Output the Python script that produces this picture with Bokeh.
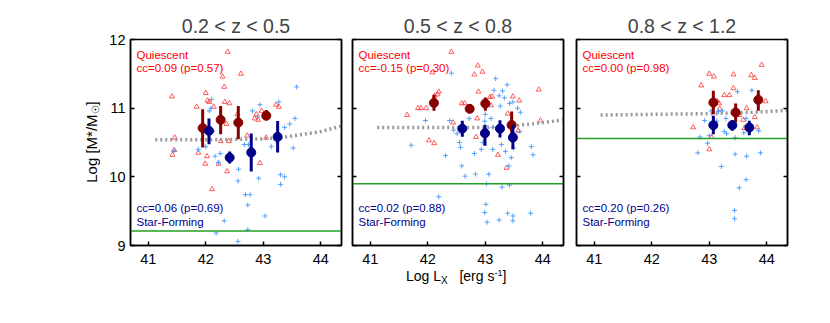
from bokeh.plotting import figure
from bokeh.layouts import row, column
from bokeh.models import FixedTicker, LinearAxis, Label, CustomJSTickFormatter, Range1d, Div
from bokeh.embed import file_html
from bokeh.resources import INLINE

# ---------------- data ----------------
titles = ["0.2 < z < 0.5", "0.5 < z < 0.8", "0.8 < z < 1.2"]
x_ticks = [41, 42, 43, 44]
y_ticks = [9, 10, 11, 12]
q_name = "Quiescent"
sf_name = "Star-Forming"
q_stats = ["cc=0.09 (p=0.57)", "cc=-0.15 (p=0.30)", "cc=0.00 (p=0.98)"]
sf_stats = ["cc=0.06 (p=0.69)", "cc=0.02 (p=0.88)", "cc=0.20 (p=0.26)"]
mass_limit = [9.21, 9.90, 10.56]
x_title_html = ("Log L<sub style='font-size:10px;vertical-align:-3px;line-height:0;'>X</sub>"
                "&nbsp;&nbsp;&nbsp;[erg s<sup style='font-size:9px;vertical-align:5px;line-height:0;'>-1</sup>]")
y_title_html = "Log [M*/M<sub style='font-size:10px;vertical-align:-2px;line-height:0;'>&#9737;</sub>]"

# panel 1 (0.2<z<0.5)
q1_lx = [42.38, 42.29, 42.61, 41.41, 42.32, 42.00, 42.03, 42.06, 42.14, 41.84, 42.33, 42.41,
         41.46, 41.42, 41.45, 41.87, 42.02, 41.99, 42.22, 42.37, 42.11, 42.36, 42.55, 42.88,
         42.91, 42.97, 43.22, 43.27, 43.05, 42.94, 42.72, 42.26, 42.40, 42.85]
q1_m = [11.82, 11.46, 11.50, 11.17, 11.31, 11.22, 11.11, 11.09, 11.02, 11.02, 11.09, 11.07,
        10.57, 10.32, 10.39, 10.35, 10.30, 10.19, 10.19, 10.08, 9.82, 10.77, 10.91, 10.91,
        10.83, 10.96, 11.05, 11.02, 10.57, 10.20, 10.60, 10.52, 10.52, 10.85]
s1_lx = [43.58, 43.27, 42.94, 42.81, 42.90, 42.10, 42.09, 42.06, 43.37, 43.46, 43.52, 43.55,
         43.14, 43.22, 42.74, 42.67, 42.79, 41.87, 41.45, 42.25, 42.16, 42.22, 42.57, 42.56,
         42.69, 42.77, 42.73, 42.92, 43.30, 43.37, 43.30, 43.03, 42.32, 42.18, 42.73, 42.56,
         42.12, 42.00]
s1_m = [11.31, 11.09, 11.05, 10.96, 10.87, 11.13, 11.00, 10.96, 10.72, 10.77, 10.42, 10.85,
        10.44, 10.53, 10.47, 10.47, 10.42, 10.40, 10.38, 10.34, 10.30, 10.21, 10.11, 9.94,
        9.74, 9.74, 9.59, 9.98, 10.03, 10.00, 9.89, 9.43, 9.36, 9.18, 9.23, 9.06,
        10.66, 10.44]
qm1_lx = [41.945, 42.258, 42.565, 43.052]
qm1_m = [10.71, 10.83, 10.79, 10.89]
qm1_hi = [10.985, 11.03, 11.03, 10.975]
qm1_lo = [10.427, 10.62, 10.548, 10.825]
sm1_lx = [42.055, 42.415, 42.79, 43.249]
sm1_m = [10.67, 10.28, 10.354, 10.582]
sm1_hi = [10.849, 10.369, 10.631, 10.814]
sm1_lo = [10.476, 10.194, 10.078, 10.353]
g1_lx = [41.12, 42.0, 42.9, 43.3, 43.7, 44.0, 44.36]
g1_m = [10.54, 10.54, 10.55, 10.57, 10.62, 10.66, 10.74]

# panel 2 (0.5<z<0.8)
q2_lx = [42.41, 42.08, 42.87, 42.81, 42.95, 42.19, 42.17, 42.12, 41.64, 41.83, 41.88, 41.97,
         42.59, 42.64, 42.88, 43.08, 43.12, 43.10, 43.48, 43.59, 43.93, 43.39, 42.86, 42.44,
         42.02, 42.11, 42.84, 43.22, 43.37, 43.57, 43.96]
q2_m = [11.82, 11.52, 11.62, 11.49, 11.53, 11.24, 11.20, 11.18, 10.90, 11.00, 11.00, 11.00,
        11.07, 11.07, 11.24, 11.16, 11.17, 11.04, 11.17, 11.11, 11.27, 10.92, 10.85, 10.79,
        10.53, 10.49, 10.58, 10.32, 10.13, 10.67, 10.82]
s2_lx = [42.41, 43.18, 43.38, 43.15, 43.30, 43.24, 43.33, 43.48, 43.42, 43.26, 43.56, 43.61,
         43.06, 43.00, 42.99, 42.38, 41.96, 42.45, 42.51, 42.72, 43.10, 43.13, 43.60, 41.71,
         42.31, 42.55, 42.57, 42.81, 42.93, 42.96, 43.13, 43.28, 43.35, 43.45, 43.49, 43.80,
         43.83, 42.59, 42.65, 42.83, 43.06, 43.41, 43.42, 43.29, 43.02, 42.19, 43.01, 42.99,
         43.03, 43.24, 43.39, 43.48, 43.48, 43.79]
s2_m = [11.51, 11.43, 11.34, 11.26, 11.25, 11.18, 11.15, 11.09, 11.07, 11.03, 11.00, 10.94,
        11.05, 10.91, 10.81, 10.82, 10.82, 10.68, 10.63, 10.85, 10.85, 10.72, 10.66, 10.46,
        10.31, 10.50, 10.43, 10.34, 10.40, 10.50, 10.40, 10.47, 10.37, 10.28, 10.42, 10.44,
        10.32, 10.16, 10.01, 10.04, 10.04, 10.16, 9.88, 9.85, 9.90, 9.71, 9.60, 9.48,
        9.34, 9.37, 9.47, 9.43, 9.36, 9.47]
qm2_lx = [42.107, 42.728, 43.0, 43.458]
qm2_m = [11.077, 10.99, 11.067, 10.755]
qm2_hi = [11.194, 11.058, 11.155, 10.951]
qm2_lo = [10.961, 10.946, 10.961, 10.563]
sm2_lx = [42.6, 42.994, 43.255, 43.48]
sm2_m = [10.702, 10.635, 10.702, 10.573]
sm2_hi = [10.815, 10.757, 10.825, 10.757]
sm2_lo = [10.582, 10.451, 10.573, 10.403]
g2_lx = [41.12, 42.0, 43.0, 43.5, 44.0, 44.36]
g2_m = [10.72, 10.72, 10.72, 10.74, 10.79, 10.83]

# panel 3 (0.8<z<1.2)
q3_lx = [43.91, 43.00, 43.08, 43.42, 43.73, 43.79, 42.86, 43.42, 43.26, 43.35, 43.14, 43.17,
         43.98, 43.18, 43.65, 43.52, 43.59, 43.79, 43.61, 43.83, 42.72, 43.04, 43.00]
q3_m = [11.63, 11.50, 11.46, 11.49, 11.48, 11.44, 11.33, 11.29, 11.19, 11.19, 11.10, 11.07,
        11.10, 10.99, 11.00, 10.90, 10.83, 10.87, 10.71, 10.72, 10.72, 10.58, 10.40]
s3_lx = [43.49, 43.74, 43.03, 43.23, 43.16, 43.29, 42.92, 43.13, 43.64, 42.84, 43.00, 43.26,
         43.30, 43.45, 43.60, 43.86, 42.97, 42.80, 43.45, 43.65, 43.89, 43.21, 43.64, 43.52,
         43.44, 43.44]
s3_m = [11.24, 11.26, 10.96, 10.96, 10.95, 10.85, 10.82, 10.81, 10.85, 10.58, 10.60, 10.66,
        10.63, 10.57, 10.64, 10.67, 10.49, 10.35, 10.33, 10.30, 10.35, 10.15, 9.96, 9.84,
        9.51, 9.39]
qm3_lx = [43.07, 43.458, 43.852]
qm3_m = [11.082, 10.937, 11.121]
qm3_hi = [11.252, 11.067, 11.262]
qm3_lo = [10.912, 10.791, 10.961]
sm3_lx = [43.07, 43.40, 43.696]
sm3_m = [10.752, 10.752, 10.718]
sm3_hi = [10.888, 10.825, 10.815]
sm3_lo = [10.621, 10.67, 10.606]
g3_lx = [41.11, 42.0, 43.0, 43.5, 44.0, 44.36]
g3_m = [10.90, 10.91, 10.92, 10.93, 10.95, 10.97]

panels = [
    (q1_lx, q1_m, s1_lx, s1_m, qm1_lx, qm1_m, qm1_lo, qm1_hi, sm1_lx, sm1_m, sm1_lo, sm1_hi, g1_lx, g1_m),
    (q2_lx, q2_m, s2_lx, s2_m, qm2_lx, qm2_m, qm2_lo, qm2_hi, sm2_lx, sm2_m, sm2_lo, sm2_hi, g2_lx, g2_m),
    (q3_lx, q3_m, s3_lx, s3_m, qm3_lx, qm3_m, qm3_lo, qm3_hi, sm3_lx, sm3_m, sm3_lo, sm3_hi, g3_lx, g3_m),
]

# ---------------- styles / geometry ----------------
X0, X1 = 40.69, 44.36
Y0, Y1 = 9.0, 12.0
FW, FH = 211, 206
PXX = FW / (X1 - X0)
PXY = FH / (Y1 - Y0)
FONT = "Liberation Sans"
Q_TXT = "#ff0000"
SF_TXT = "#00008b"
Q_PT = "#ff3333"
SF_PT = "#4499ff"
Q_MEAN = "#880000"
SF_MEAN = "#000088"
YDIV_W = 100
FIG_TOP, FIG_BOT = 39, 25
borders = [(30, 5), (6, 6), (7, 20)]


def lab(p, x, y, text, size, color="black"):
    p.add_layout(Label(x=x, y=y, text=text, text_font=FONT, text_font_size=f"{size}px",
                       text_color=color, text_align="left", text_baseline="alphabetic"))


figs = []
for i, d in enumerate(panels):
    (qlx, qm, slx, sm, qmlx, qmm, qmlo, qmhi, smlx, smm, smlo, smhi, glx, gm) = d
    p = figure(frame_width=FW, frame_height=FH, x_range=Range1d(X0, X1), y_range=Range1d(Y0, Y1),
               output_backend="svg", toolbar_location=None,
               min_border_left=borders[i][0], min_border_right=borders[i][1],
               min_border_top=FIG_TOP, min_border_bottom=FIG_BOT)
    p.title.text = titles[i]
    p.title.align = "center"
    p.title.vertical_align = "bottom"
    p.title.text_font = FONT
    p.title.text_font_size = "19.5px"
    p.title.text_font_style = "normal"
    p.title.standoff = 6
    p.grid.visible = False
    p.outline_line_color = "black"
    p.outline_line_width = 1.5
    p.background_fill_color = "white"
    p.border_fill_color = "white"

    for ax in (p.xaxis[0], p.yaxis[0]):
        ax.axis_line_width = 1.5
        ax.major_tick_in = 4
        ax.major_tick_out = 0
        ax.major_tick_line_width = 1.5
        ax.minor_tick_line_color = None
        ax.major_label_text_font = FONT
        ax.major_label_text_font_size = "14.5px"
        ax.major_label_text_color = "black"
    p.xaxis.ticker = FixedTicker(ticks=x_ticks)
    p.yaxis.ticker = FixedTicker(ticks=y_ticks)
    p.xaxis.major_label_standoff = 8
    p.yaxis.major_label_standoff = 5
    if i > 0:
        p.yaxis.formatter = CustomJSTickFormatter(code="return ''")
        p.yaxis.major_label_standoff = 0
    ra = LinearAxis(ticker=FixedTicker(ticks=y_ticks), major_tick_in=4, major_tick_out=0,
                    major_tick_line_width=1.5, axis_line_width=1.5, minor_tick_line_color=None,
                    formatter=CustomJSTickFormatter(code="return ''"), major_label_standoff=0)
    p.add_layout(ra, "right")

    # individual sources
    p.scatter(qlx, qm, marker="triangle", size=5, fill_color="white", fill_alpha=0,
              line_color=Q_PT, line_width=0.8)
    p.scatter(slx, sm, marker="cross", size=5, line_color=SF_PT, line_width=0.9)
    # mass completeness curve & limit
    p.line(glx, gm, line_color="#999999", line_width=3.5, line_dash="2 3")
    p.line([X0, X1], [mass_limit[i], mass_limit[i]], line_color="#22a022", line_width=1.5)
    # binned means
    p.segment(qmlx, qmlo, qmlx, qmhi, line_color=Q_MEAN, line_width=3)
    p.scatter(qmlx, qmm, marker="circle", size=9, fill_color=Q_MEAN, line_color=Q_MEAN)
    p.segment(smlx, smlo, smlx, smhi, line_color=SF_MEAN, line_width=3)
    p.scatter(smlx, smm, marker="circle", size=9, fill_color=SF_MEAN, line_color=SF_MEAN)

    # in-panel texts
    tx = X0 + 6 / PXX
    lab(p, tx, Y1 - 15.7 / PXY, q_name, 11.5, Q_TXT)
    lab(p, tx, Y1 - 28.3 / PXY, q_stats[i], 11.5, Q_TXT)
    lab(p, tx, Y0 + 38.0 / PXY, sf_stats[i], 11.5, SF_TXT)
    lab(p, tx, Y0 + 24.0 / PXY, sf_name, 11.5, SF_TXT)
    figs.append(p)

fig_h = FIG_TOP + FH + FIG_BOT
TXT = "white-space:nowrap;font-family:'Liberation Sans';color:black;position:absolute;"

ydiv = Div(width=YDIV_W, height=fig_h, margin=0, text=(
    f"<div style=\"position:relative;width:{YDIV_W}px;height:{fig_h}px;\">"
    f"<div style=\"{TXT}left:91px;top:142px;transform:translate(-50%,-50%) rotate(-90deg);"
    "font-size:15px;line-height:15px;\">"
    f"{y_title_html}</div></div>"))
xdiv = Div(width=820, height=30, margin=0, text=(
    "<div style=\"position:relative;width:820px;height:30px;\">"
    f"<div style=\"{TXT}left:406px;top:-1px;font-size:14px;line-height:15px;\">"
    f"{x_title_html}</div></div>"))

layout = column(row(ydiv, *figs, spacing=0), xdiv, spacing=0)
open("out.html", "w").write(file_html(layout, INLINE))
